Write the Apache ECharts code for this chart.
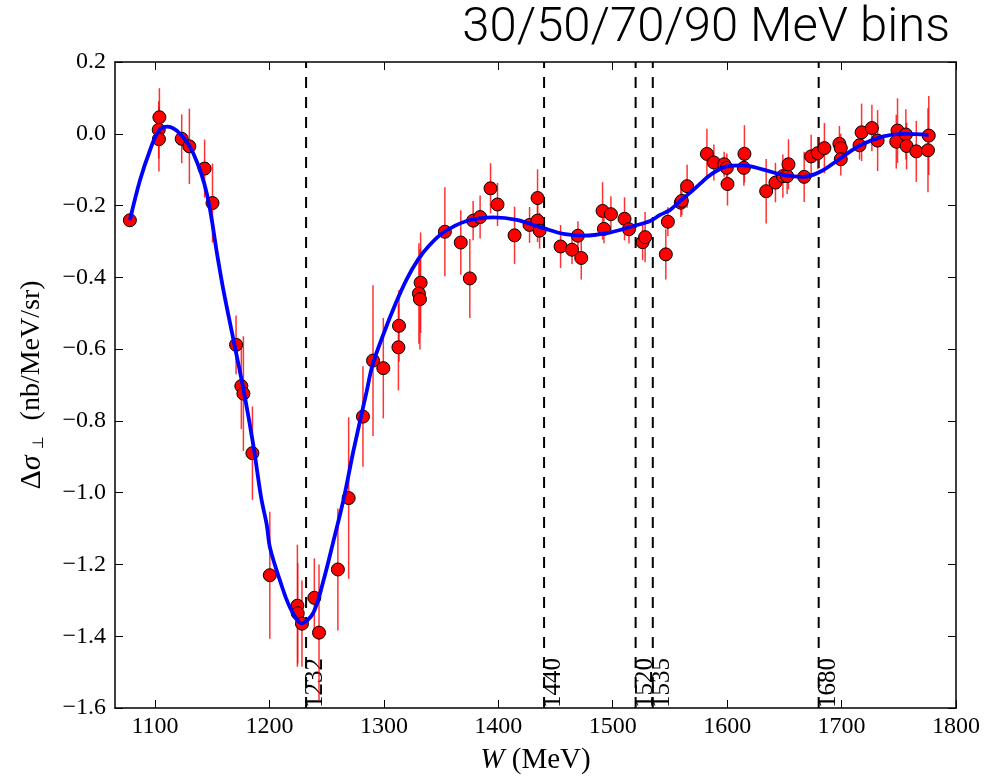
<!DOCTYPE html>
<html>
<head>
<meta charset="utf-8">
<script src="https://cdn.jsdelivr.net/npm/echarts@6/dist/echarts.min.js"></script>
<style>
  html, body { margin: 0; padding: 0; background: #fff; }
  #chart { width: 998px; height: 780px; }
</style>
</head>
<body>
<div id="chart"></div>
<script>
// Measured asymmetry points: W (MeV), value (nb/MeV/sr), error
const pointW = [1078, 1103.8, 1103.2, 1103.4, 1123.3, 1130, 1143.3, 1150.2, 1170.8, 1175.4,
  1177.2, 1185.1, 1200.3, 1224.4, 1224.7, 1228.4, 1239.2, 1243.3, 1259.8, 1269.2,
  1281.7, 1290.5, 1299.5, 1313.2, 1312.7, 1332.1, 1330.6, 1331.5, 1353.3, 1367.2,
  1375.1, 1378, 1384.1, 1393.2, 1399.3, 1414.2, 1427.3, 1434.3, 1434.3, 1436.1,
  1454.4, 1464.4, 1469.6, 1472.5, 1491.1, 1492.3, 1498.4, 1510.3, 1514.2, 1526.1,
  1528.3, 1546.4, 1548.2, 1559.5, 1560.4, 1565.0, 1582.3, 1588.4, 1597.4, 1599.7,
  1600.3, 1615.1, 1614.6, 1634.1, 1642.2, 1648.7, 1652.4, 1653.6, 1667.3, 1673.4,
  1679.2, 1685.0, 1698.1, 1699.3, 1699.3, 1715.7, 1717.5, 1726.5, 1731.5, 1748.9,
  1747.8, 1756.2, 1756.8, 1765.3, 1775.5, 1776.2];
const pointVal = [-0.241, 0.046, 0.011, -0.015, -0.014, -0.035, -0.097, -0.193, -0.588, -0.703,
  -0.724, -0.890, -1.230, -1.315, -1.336, -1.365, -1.293, -1.390, -1.214, -1.015,
  -0.788, -0.632, -0.653, -0.535, -0.595, -0.415, -0.445, -0.461, -0.273, -0.303,
  -0.403, -0.242, -0.232, -0.152, -0.197, -0.283, -0.254, -0.179, -0.242, -0.270,
  -0.314, -0.323, -0.284, -0.346, -0.215, -0.265, -0.224, -0.237, -0.266, -0.302,
  -0.288, -0.336, -0.245, -0.192, -0.187, -0.146, -0.056, -0.080, -0.085, -0.095,
  -0.140, -0.056, -0.095, -0.160, -0.136, -0.118, -0.118, -0.085, -0.120, -0.063,
  -0.054, -0.040, -0.028, -0.040, -0.071, -0.032, 0.004, 0.016, -0.019, 0.009,
  -0.022, -0.002, -0.034, -0.049, -0.046, -0.005];
const pointErr = [0.01, 0.081, 0.08, 0.09, 0.068, 0.105, 0.081, 0.11, 0.082, 0.12,
  0.16, 0.13, 0.177, 0.17, 0.14, 0.12, 0.11, 0.19, 0.17, 0.225,
  0.14, 0.21, 0.14, 0.10, 0.12, 0.14, 0.14, 0.14, 0.124, 0.09,
  0.11, 0.055, 0.06, 0.07, 0.06, 0.08, 0.05, 0.08, 0.06, 0.05,
  0.06, 0.04, 0.04, 0.06, 0.08, 0.04, 0.05, 0.06, 0.04, 0.05,
  0.07, 0.07, 0.04, 0.04, 0.04, 0.06, 0.07, 0.05, 0.035, 0.04,
  0.06, 0.08, 0.05, 0.09, 0.055, 0.06, 0.05, 0.07, 0.07, 0.06,
  0.045, 0.07, 0.05, 0.04, 0.045, 0.04, 0.08, 0.065, 0.085, 0.09,
  0.075, 0.07, 0.065, 0.085, 0.117, 0.11];

// Fitted curve samples
const curveW = [1078, 1086.9, 1095.6, 1102.9, 1111, 1121.9, 1133.5, 1145.2, 1155, 1160,
  1168.4, 1177.2, 1185.9, 1192.8, 1197.6, 1200.5, 1209.3, 1218, 1228.2, 1238.4,
  1247.1, 1255.9, 1265, 1273.2, 1284.8, 1290, 1300, 1310, 1320, 1330,
  1340, 1352, 1372.4, 1395.7, 1416, 1439.4, 1456.9, 1474.4, 1494.8, 1518.1,
  1532.7, 1541.4, 1550.2, 1558.9, 1567.7, 1576.4, 1585.1, 1599.7, 1614.2, 1631.7,
  1649.2, 1666.7, 1681.3, 1698.8, 1716.3, 1736.6, 1754.1, 1776];
const curveVal = [-0.241, -0.129, -0.046, 0.007, 0.020, 0.0, -0.055, -0.166, -0.35, -0.44,
  -0.572, -0.711, -0.868, -1.015, -1.089, -1.154, -1.246, -1.32, -1.364, -1.334,
  -1.246, -1.135, -1.015, -0.886, -0.72, -0.645, -0.555, -0.475, -0.405, -0.35,
  -0.31, -0.275, -0.243, -0.233, -0.24, -0.263, -0.279, -0.284, -0.277, -0.257,
  -0.243, -0.226, -0.212, -0.187, -0.164, -0.139, -0.115, -0.091, -0.088, -0.1,
  -0.115, -0.12, -0.106, -0.069, -0.032, -0.007, 0.0, -0.003];

// Resonance positions (MeV)
const resonanceW = [1232, 1440, 1520, 1535, 1680];

// Axis ticks
const xTicks = [1100, 1200, 1300, 1400, 1500, 1600, 1700, 1800];
const yTicks = [-1.6, -1.4, -1.2, -1.0, -0.8, -0.6, -0.4, -0.2, 0.0, 0.2];

const X_MIN = 1065, X_MAX = 1800, Y_MIN = -1.6, Y_MAX = 0.2;
const serif = 'Liberation Serif, DejaVu Serif, serif';

const pointData = pointW.map((w, i) => [w, pointVal[i], pointErr[i]]);
const curveData = curveW.map((w, i) => [w, curveVal[i]]);

const fmtY = v => (v < 0 ? '\u2212' : '') + Math.abs(v).toFixed(1);

const baseX = {
  type: 'value', min: X_MIN, max: X_MAX,
  splitLine: { show: false },
  axisLine: { show: true, onZero: false, lineStyle: { color: '#000', width: 1.5 } },
  axisTick: { inside: true, length: 8, lineStyle: { color: '#000', width: 1 }, customValues: xTicks }
};
const baseY = {
  type: 'value', min: Y_MIN, max: Y_MAX,
  splitLine: { show: false },
  axisLine: { show: true, onZero: false, lineStyle: { color: '#000', width: 1.5 } },
  axisTick: { inside: true, length: 8, lineStyle: { color: '#000', width: 1 }, customValues: yTicks }
};

const chart = echarts.init(document.getElementById('chart'), null, { renderer: 'canvas' });

chart.setOption({
  animation: false,
  backgroundColor: '#fff',
  grid: { left: 115, right: 42, top: 62, bottom: 68, containLabel: false },
  graphic: [{
    type: 'text', right: 48, top: 4,
    style: { text: '30/50/70/90 MeV bins', font: '300 49px Roboto, "Open Sans", sans-serif', fill: '#000' }
  }],
  xAxis: [
    Object.assign({}, baseX, {
      position: 'bottom',
      name: '{i|W}{t| (MeV)}',
      nameLocation: 'middle', nameGap: 38,
      nameTextStyle: {
        rich: {
          i: { fontFamily: serif, fontSize: 29, fontStyle: 'italic', color: '#000' },
          t: { fontFamily: serif, fontSize: 29, color: '#000' }
        }
      },
      axisLabel: {
        customValues: xTicks, margin: 7,
        fontFamily: serif, fontSize: 24, color: '#000',
        formatter: v => String(v)
      }
    }),
    Object.assign({}, baseX, { position: 'top', axisLabel: { show: false } })
  ],
  yAxis: [
    Object.assign({}, baseY, {
      position: 'left',
      name: '{d|\u0394}{s|\u03c3}{p|\u22a5}{t|(nb/MeV/sr)}',
      nameLocation: 'middle', nameRotate: 90, nameGap: 68,
      nameTextStyle: {
        rich: {
          d: { fontFamily: serif, fontSize: 30, color: '#000' },
          s: { fontFamily: serif, fontSize: 30, fontStyle: 'italic', color: '#000' },
          p: { fontFamily: 'DejaVu Sans, sans-serif', fontSize: 15, color: '#000', verticalAlign: 'bottom', padding: [0, 0, 0, 6] },
          t: { fontFamily: serif, fontSize: 28, color: '#000', padding: [0, 0, 0, 16] }
        }
      },
      axisLabel: {
        customValues: yTicks, margin: 9,
        fontFamily: serif, fontSize: 24, color: '#000',
        formatter: fmtY
      }
    }),
    Object.assign({}, baseY, { position: 'right', axisLabel: { show: false } })
  ],
  series: [
    {
      // resonance markers: dashed vertical lines with rotated mass labels
      type: 'custom',
      z: 1,
      silent: true,
      data: resonanceW.map(w => [w]),
      renderItem: (params, api) => {
        const w = api.value(0);
        const pb = api.coord([w, Y_MIN]);
        const pt = api.coord([w, Y_MAX]);
        return {
          type: 'group',
          children: [
            {
              type: 'line',
              shape: { x1: pb[0], y1: pb[1], x2: pt[0], y2: pt[1] },
              style: { stroke: '#000', lineWidth: 2, lineDash: [11, 9] }
            },
            {
              type: 'text',
              x: pb[0] - 3, y: pb[1], rotation: Math.PI / 2,
              style: {
                text: String(w), font: '25px ' + serif, fill: '#000',
                textAlign: 'left', textVerticalAlign: 'top'
              }
            }
          ]
        };
      }
    },
    {
      // error bars
      type: 'custom',
      z: 2,
      silent: true,
      data: pointData,
      renderItem: (params, api) => {
        const w = api.value(0), v = api.value(1), e = api.value(2);
        const lo = api.coord([w, v - e]);
        const hi = api.coord([w, v + e]);
        return {
          type: 'line',
          shape: { x1: lo[0], y1: lo[1], x2: hi[0], y2: hi[1] },
          style: { stroke: 'rgba(255,0,0,0.8)', lineWidth: 1.5 }
        };
      }
    },
    {
      type: 'scatter',
      z: 3,
      data: pointData.map(d => [d[0], d[1]]),
      symbol: 'circle',
      symbolSize: 13,
      itemStyle: { color: '#ff0000', borderColor: '#000', borderWidth: 1, opacity: 1 }
    },
    {
      type: 'line',
      z: 4,
      data: curveData,
      showSymbol: false,
      smooth: 0.35,
      lineStyle: { color: '#0000ff', width: 3.8 }
    }
  ]
});
</script>
</body>
</html>
